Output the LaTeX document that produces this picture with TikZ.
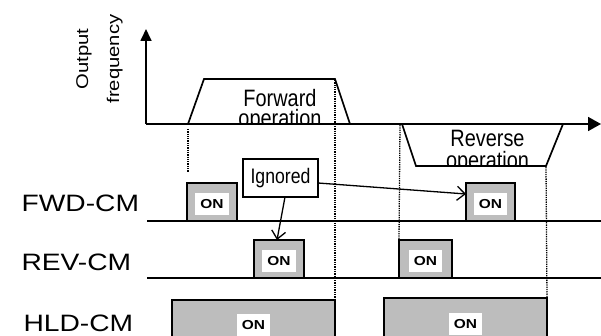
\documentclass[tikz,border=0pt]{standalone}
\usepackage{fontspec}
\setmainfont{Liberation Sans}
\newfontfamily\widesf[FakeStretch=1.19]{Liberation Sans}
\newfontfamily\narrowsf[FakeStretch=0.84]{Liberation Sans}
\usetikzlibrary{arrows.meta}
\colorlet{stipple}{black!26}
\tikzset{
  sig/.style={line width=1.7pt},
  onbox/.style={draw,fill=stipple,line width=1.7pt,inner sep=0pt,outer sep=0pt},
  ontext/.style={fill=white,inner xsep=5pt,inner ysep=6pt,yshift=-2pt,
    font=\widesf\bfseries\fontsize{13}{13}\selectfont},
  rowlabel/.style={anchor=base west,font=\widesf\fontsize{23.7}{24}\selectfont},
  optext/.style={anchor=base,font=\narrowsf\fontsize{23.7}{24}\selectfont},
  guide/.style={densely dotted,line width=1.3pt},
  callout/.style={draw,fill=white,line width=1.7pt,inner sep=0pt,outer sep=0pt,
    minimum width=75pt,minimum height=38pt,font=\narrowsf\fontsize{21}{21}\selectfont},
  pointer/.style={-{Straight Barb[length=8pt,width=14pt]},line width=1.3pt}
}
\newcommand{\onsig}[4]{%
  \node[onbox,minimum width=#3,minimum height=#4] (#1) at (#2) {};
  \node[ontext] at (#1) {ON};
}

\begin{document}
\begin{tikzpicture}[x=1pt,y=-1pt]
  \clip (0,0) rectangle (601,336);
  % output frequency
  \node[rotate=90,align=center,font=\widesf\fontsize{17}{31}\selectfont] (ylab) at (99.5,59) {Output\\frequency};
  \begin{scope}
    \clip (150,0) rectangle (380,123);
    \node[optext] (fwdtxt) at (280,107) {Forward};
    \node[optext] at (280,127) {operation};
  \end{scope}
  \begin{scope}
    \clip (400,124) rectangle (600,165);
    \node[optext] (revtxt) at (487.5,147) {Reverse};
    \node[optext] at (487.5,169) {operation};
  \end{scope}
  \draw[sig] (188,124) -- (204,79) -- (335,79) -- (350,124);
  \draw[sig] (402,124) -- (416,166) -- (546,166) -- (563,124);
  \coordinate (origin) at (146,124);
  \draw[sig,-{Triangle[length=12pt,width=11pt]}] (origin) -- (146,29);
  \draw[sig,-{Triangle[length=13pt,width=14pt]}] (origin) -- (601,124);
  % signals
  \node[rowlabel] (fwd) at (18,212) {FWD-CM};
  \node[rowlabel] (rev) at (18,270) {REV-CM};
  \node[rowlabel] (hld) at (20,331) {HLD-CM};
  \draw[sig] (147,221) -- (601,221);
  \draw[sig] (147,278) -- (601,278);
  \onsig{fwdA}{212,202}{50pt}{38pt}
  \onsig{fwdB}{490.5,202}{49pt}{38pt}
  \onsig{revA}{279,259}{50pt}{38pt}
  \onsig{revB}{425.5,259}{53pt}{38pt}
  \onsig{hldA}{253.5,323}{163pt}{46pt}
  \onsig{hldB}{465.5,322}{163pt}{48pt}
  % guides
  \draw[guide] (188,129) -- (188,172);
  \draw[guide] (335,80) -- (hldA.north east);
  \draw[guide] (400,125) -- (revB.north west);
  \draw[guide] (546,167) -- (hldB.north east);
  % ignored
  \node[callout] (ign) at (280.5,178) {Ignored};
  \draw[pointer] ([xshift=4.5pt]ign.south) -- ([xshift=-2pt]revA.north);
  \draw[pointer] ([yshift=-5pt]ign.east) -- ([yshift=8pt]fwdB.west);
\end{tikzpicture}
\end{document}
